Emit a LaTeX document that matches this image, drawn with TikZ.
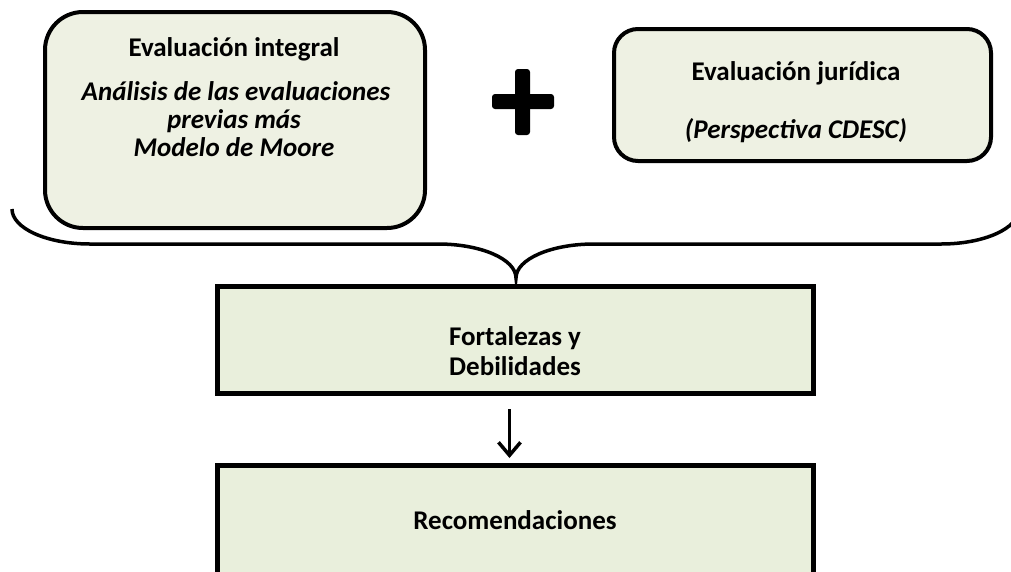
\documentclass[tikz,border=0pt]{standalone}
\usepackage{fontspec}
\setmainfont{Carlito}
\usetikzlibrary{arrows.meta}
\definecolor{boxA}{HTML}{EEF1E3}
\definecolor{boxB}{HTML}{E9EFDC}
\begin{document}
\begin{tikzpicture}[x=1pt,y=-1pt,
  rbox/.style={draw=black,line width=4pt,fill=boxA,inner sep=0pt},
  sbox/.style={draw=black,line width=5pt,fill=boxB,inner sep=0pt},
  lbl/.style={anchor=base,inner sep=0pt,font=\fontsize{27}{29}\selectfont\bfseries},
  ilbl/.style={anchor=base,inner sep=0pt,font=\fontsize{27}{29}\selectfont\bfseries\itshape},
  conn/.style={line width=3.5pt,-{Straight Barb[length=13pt,width=22pt,line width=3.5pt]}},
  bracestyle/.style={line width=3.5pt},
]
\useasboundingbox (0,0) rectangle (1011,571);
\clip (0,0) rectangle (1011,571);

% rounded boxes
\node[rbox,rounded corners=38pt,minimum width=380pt,minimum height=216pt] (integral) at (235,120) {};
\node[rbox,rounded corners=24pt,minimum width=377pt,minimum height=132pt] (juridica) at (802.5,95) {};

\node[lbl] (t1) at (234,56) {Evaluación integral};
\node[ilbl] (t2) at (236,100) {Análisis de las evaluaciones};
\node[ilbl] (t3) at (234,128) {previas más};
\node[ilbl] (t4) at (234,156) {Modelo de Moore};

\node[lbl] (t5) at (796,80) {Evaluación jurídica};
\node[ilbl] (t6) at (796,138) {(Perspectiva CDESC)};

% plus sign
\fill[rounded corners=3pt] (492,94) rectangle (554,109);
\fill[rounded corners=3pt] (515,69) rectangle (530,135);

% brace
\draw[bracestyle] (12,209) .. controls (12,228.3) and (46.9,244) .. (90,244)
  -- (438,244) .. controls (481.1,244) and (516,259.2) .. (516,278)
  .. controls (516,259.2) and (550.9,244) .. (594,244)
  -- (941,244) .. controls (984.1,244) and (1019,228.3) .. (1019,209);

% rectangles
\node[sbox,minimum width=596pt,minimum height=107pt] (fort) at (515.5,340) {};
\node[lbl] (t7) at (515,345) {Fortalezas y};
\node[lbl] (t8) at (515,375) {Debilidades};

\node[sbox,minimum width=596pt,minimum height=200pt] (recom) at (515.5,565.5) {};
\node[lbl] (t9) at (515,529) {Recomendaciones};

% arrow
\coordinate (a1) at (509.5,409);
\coordinate (a2) at (509.5,458);
\draw[conn] (a1) -- (a2);
\end{tikzpicture}
\end{document}
